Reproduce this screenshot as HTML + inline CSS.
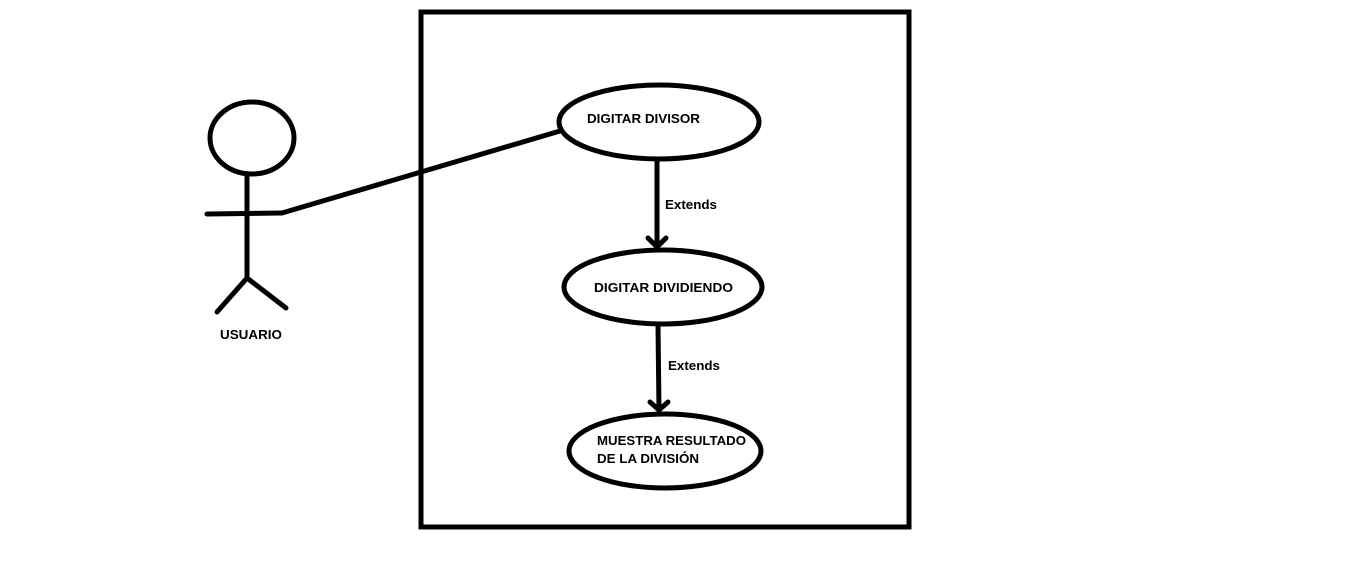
<!DOCTYPE html>
<html><head><meta charset="utf-8"><style>
html,body{margin:0;padding:0;background:#fff;width:1360px;height:565px;overflow:hidden}
text{font-family:"Liberation Sans",sans-serif;font-weight:bold;font-size:13px;fill:#000}
</style></head><body>
<svg width="1360" height="565" viewBox="0 0 1360 565" xmlns="http://www.w3.org/2000/svg">
<g fill="none" stroke="#000" stroke-width="5" stroke-linecap="round" stroke-linejoin="round">
<rect x="421" y="12" width="488" height="515" stroke-linecap="butt" stroke-linejoin="miter"/>
<ellipse cx="659" cy="122" rx="100" ry="37"/>
<ellipse cx="663" cy="287" rx="99" ry="37"/>
<ellipse cx="665" cy="451" rx="96" ry="37"/>
<ellipse cx="252" cy="138" rx="42" ry="36"/>
<line x1="247" y1="174" x2="247" y2="278"/>
<line x1="207" y1="214" x2="282" y2="213"/>
<line x1="282" y1="213" x2="560" y2="131"/>
<line x1="247" y1="278" x2="217" y2="312"/>
<line x1="247" y1="278" x2="286" y2="308"/>
<line x1="657" y1="160" x2="657" y2="247"/>
<polyline points="648,238 657,247 666,238"/>
<line x1="658" y1="325" x2="659" y2="410"/>
<polyline points="650,402 659,410 668,402"/>
</g>
<text x="587" y="123" textLength="113" lengthAdjust="spacingAndGlyphs">DIGITAR DIVISOR</text>
<text x="594" y="292" textLength="139" lengthAdjust="spacingAndGlyphs">DIGITAR DIVIDIENDO</text>
<text x="597" y="445" textLength="149" lengthAdjust="spacingAndGlyphs">MUESTRA RESULTADO</text>
<text x="597" y="463" textLength="102" lengthAdjust="spacingAndGlyphs">DE LA DIVISIÓN</text>
<text x="665" y="209" textLength="52" lengthAdjust="spacingAndGlyphs">Extends</text>
<text x="668" y="370" textLength="52" lengthAdjust="spacingAndGlyphs">Extends</text>
<text x="220" y="339" textLength="62" lengthAdjust="spacingAndGlyphs">USUARIO</text>
</svg>
</body></html>
